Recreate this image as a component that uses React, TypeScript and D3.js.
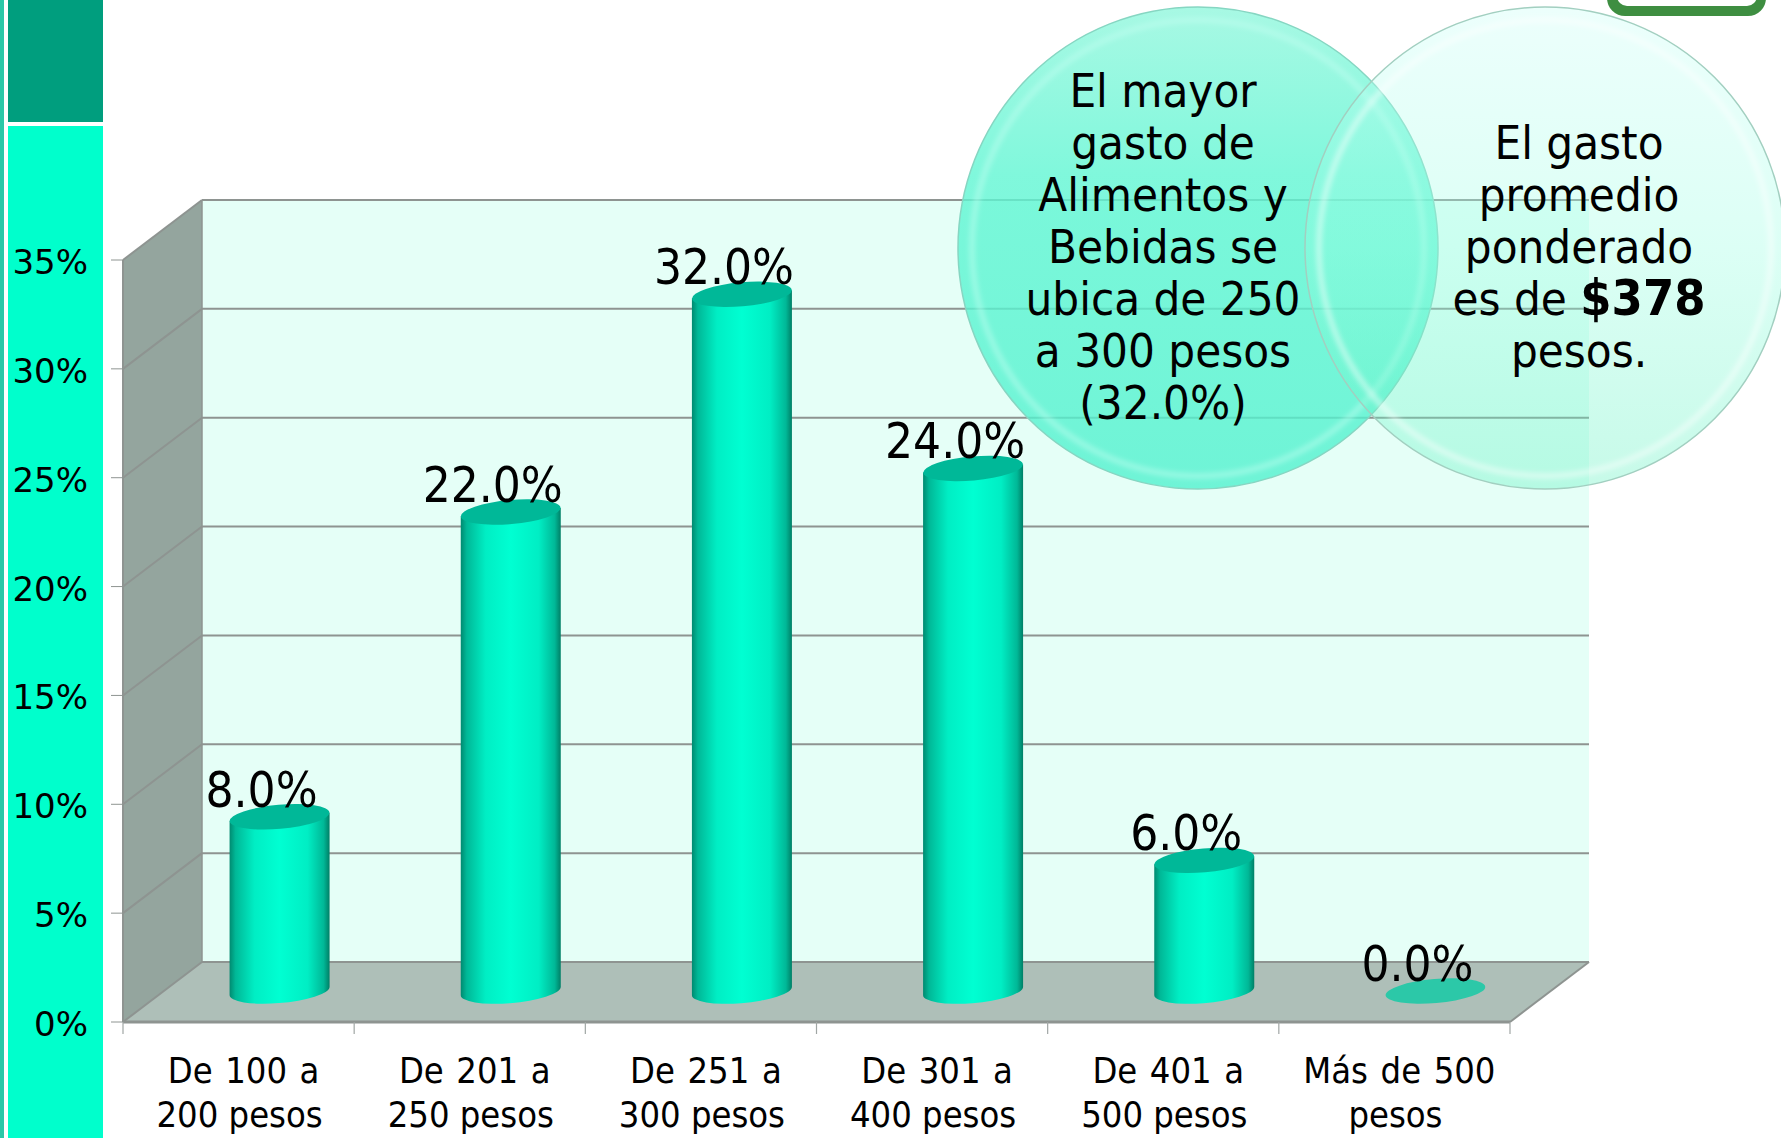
import React from "react";
import * as d3 from "d3";

const categories = [
  ["De 100 a", "200 pesos"],
  ["De 201 a", "250 pesos"],
  ["De 251 a", "300 pesos"],
  ["De 301 a", "400 pesos"],
  ["De 401 a", "500 pesos"],
  ["Más de 500", "pesos"],
];
const values = [8, 22, 32, 24, 6, 0];
const valueLabels = ["8.0%", "22.0%", "32.0%", "24.0%", "6.0%", "0.0%"];
const ticks = [0, 5, 10, 15, 20, 25, 30, 35];
const bubbleLeft = ["El mayor", "gasto de", "Alimentos y", "Bebidas se", "ubica de 250", "a 300 pesos", "(32.0%)"];
const bubbleRight = ["El gasto", "promedio", "ponderado"];

const condensed = { fontFamily: "'DejaVu Sans'", fontStretch: "condensed" as const };

const x0 = 123, x1 = 1510, dx = 79, dy = -60;
const yFront = d3.scaleLinear().domain([0, 35]).range([1022, 260]);
const xBand = d3.scaleBand<number>().domain(d3.range(6)).range([x0, x1]);
const rx = 50, ry = 12, tilt = -5, tiltDy = 4;
const barOffset = 31;
const barCx = (i: number) => xBand(i)! + xBand.bandwidth() / 2 + 41;

export default function App() {
  const yAt = (v: number) => yFront(v) - barOffset;
  const grid = "#8e9491";
  return (
    <svg width={1781} height={1138} viewBox="0 0 1781 1138"
      style={{ position: "absolute", left: 0, top: 0, display: "block", background: "#fff" }}>
      <defs>
        <linearGradient id="cyl" x1="0" x2="1" y1="0" y2="0">
          <stop offset="0" stopColor="#008a70" />
          <stop offset="0.06" stopColor="#00b897" />
          <stop offset="0.25" stopColor="#00eec4" />
          <stop offset="0.5" stopColor="#00ffd2" />
          <stop offset="0.78" stopColor="#00eec4" />
          <stop offset="0.94" stopColor="#00b897" />
          <stop offset="1" stopColor="#007f66" />
        </linearGradient>
        <linearGradient id="bl" x1="0" x2="0" y1="0" y2="1">
          <stop offset="0" stopColor="#92f7dd" stopOpacity="0.8" />
          <stop offset="0.35" stopColor="#60f6d3" stopOpacity="0.8" />
          <stop offset="1" stopColor="#51f1ce" stopOpacity="0.8" />
        </linearGradient>
        <linearGradient id="br" x1="0" x2="0" y1="0" y2="1">
          <stop offset="0" stopColor="#c8fff6" stopOpacity="0.34" />
          <stop offset="0.5" stopColor="#98ffe2" stopOpacity="0.34" />
          <stop offset="1" stopColor="#58f0bc" stopOpacity="0.34" />
        </linearGradient>
        <filter id="soft" x="-5%" y="-5%" width="110%" height="110%">
          <feGaussianBlur stdDeviation="2.5" />
        </filter>
      </defs>

      {/* side bands */}
      <rect x={0} y={0} width={4} height={1138} fill="#2cc8a8" />
      <rect x={8} y={0} width={95} height={122} fill="#009e7e" />
      <rect x={8} y={126} width={95} height={1012} fill="#00ffcc" />

      {/* logo fragment */}
      <rect x={1607} y={-40} width={159} height={56} rx={18} fill="#3e8e41" />
      <rect x={1617} y={-40} width={140} height={46} rx={10} fill="#fff" />

      {/* walls */}
      <polygon points={`${x0},${yFront(35)} ${x0 + dx},${yFront(35) + dy} ${x0 + dx},${yFront(0) + dy} ${x0},${yFront(0)}`} fill="#94a59e" />
      <rect x={x0 + dx} y={yFront(35) + dy} width={x1 - x0} height={yFront(0) - yFront(35)} fill="#e5fff7" />
      <polygon points={`${x0},${yFront(0)} ${x0 + dx},${yFront(0) + dy} ${x1 + dx},${yFront(0) + dy} ${x1},${yFront(0)}`} fill="#aebfb8" />

      {/* gridlines */}
      {ticks.map((t) => (
        <g key={t} stroke={grid} strokeWidth={2} fill="none">
          <line x1={x0 - 12} x2={x0} y1={yFront(t)} y2={yFront(t)} strokeWidth={1} />
          <line x1={x0} x2={x0 + dx} y1={yFront(t)} y2={yFront(t) + dy} />
          <line x1={x0 + dx} x2={x1 + dx} y1={yFront(t) + dy} y2={yFront(t) + dy} />
        </g>
      ))}
      <line x1={x0} x2={x0} y1={yFront(35)} y2={yFront(0)} stroke={grid} strokeWidth={2} />
      <line x1={x0 + dx} x2={x0 + dx} y1={yFront(35) + dy} y2={yFront(0) + dy} stroke={grid} strokeWidth={1.5} />
      <line x1={x0} x2={x1} y1={yFront(0)} y2={yFront(0)} stroke={grid} strokeWidth={3} />
      <line x1={x1} x2={x1 + dx} y1={yFront(0)} y2={yFront(0) + dy} stroke={grid} strokeWidth={2} />
      {d3.range(7).map((i) => {
        const x = x0 + i * xBand.bandwidth();
        return <line key={i} x1={x} x2={x} y1={yFront(0)} y2={yFront(0) + 12} stroke="#a0a6a4" strokeWidth={1.2} />;
      })}

      {/* tick labels */}
      {ticks.map((t) => (
        <text key={t} x={88} y={yFront(t) + 14} textAnchor="end" fontSize={34} fill="#000" fontFamily="'DejaVu Sans'">{t}%</text>
      ))}

      {/* category labels */}
      {categories.map((c, i) => {
        const cx = xBand(i)! + xBand.bandwidth() / 2;
        return (
          <text key={i} fontSize={36} textAnchor="middle" fill="#000" style={condensed}>
            <tspan x={cx + 5} y={1083} wordSpacing={2.3}>{c[0]}</tspan>
            <tspan x={cx + 1} y={1127}>{c[1]}</tspan>
          </text>
        );
      })}

      {/* cylinders */}
      {values.map((v, i) => {
        const cx = barCx(i);
        const top = yAt(v), bot = yAt(0);
        const ellipse = <ellipse cx={cx} cy={top} rx={rx} ry={ry} transform={`rotate(${tilt} ${cx} ${top})`} fill={v === 0 ? "#2cc8a8" : "#00b898"} />;
        if (v === 0) return <g key={i}>{ellipse}</g>;
        const d = `M${cx - rx},${top + tiltDy} L${cx - rx},${bot + tiltDy} A${rx},${ry} ${tilt} 0 0 ${cx + rx},${bot - tiltDy} L${cx + rx},${top - tiltDy} Z`;
        return (
          <g key={i}>
            <path d={d} fill="url(#cyl)" />
            {ellipse}
          </g>
        );
      })}

      {/* value labels */}
      {values.map((v, i) => (
        <text key={i} x={barCx(i) - 18} y={yAt(v) - 10} fontSize={49} textAnchor="middle" fill="#000" style={condensed}>{valueLabels[i]}</text>
      ))}

      {/* bubbles */}
      <ellipse cx={1198} cy={248} rx={240} ry={241} fill="url(#bl)" stroke="#86d6c2" strokeWidth={1.5} />
      <ellipse cx={1198} cy={248} rx={226} ry={228} fill="none" stroke="#c6fff2" strokeOpacity={0.45} strokeWidth={6} filter="url(#soft)" />
      <ellipse cx={1545} cy={248} rx={240} ry={241} fill="url(#br)" stroke="#a2cfc0" strokeWidth={1.5} />
      <ellipse cx={1545} cy={248} rx={226} ry={228} fill="none" stroke="#ffffff" strokeOpacity={0.45} strokeWidth={6} filter="url(#soft)" />

      {bubbleLeft.map((s, i) => (
        <text key={i} x={1163} y={107 + i * 52} fontSize={47} textAnchor="middle" fill="#000" style={condensed}>{s}</text>
      ))}
      {bubbleRight.map((s, i) => (
        <text key={i} x={1579} y={159 + i * 52} fontSize={47} textAnchor="middle" fill="#000" style={condensed}>{s}</text>
      ))}
      <text x={1579} y={315} fontSize={47} textAnchor="middle" fill="#000" style={condensed}>
        es de <tspan fontWeight="bold" fontSize={50}>$378</tspan>
      </text>
      <text x={1579} y={367} fontSize={47} textAnchor="middle" fill="#000" style={condensed}>pesos.</text>
    </svg>
  );
}
